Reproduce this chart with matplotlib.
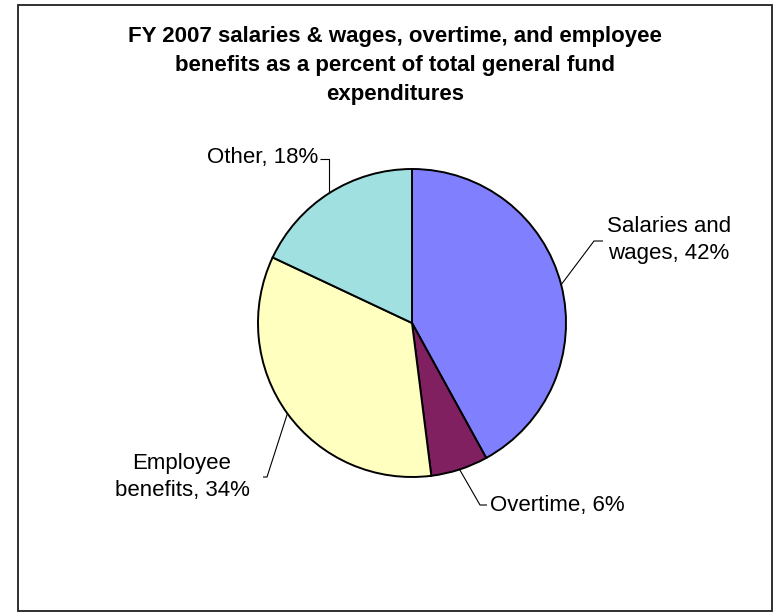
import numpy as np
import matplotlib.pyplot as plt
from matplotlib.patches import Rectangle

plt.rcParams['font.family'] = ['Liberation Sans', 'DejaVu Sans']

labels = ["Salaries and\nwages", "Overtime", "Employee\nbenefits", "Other"]
shares = [42, 6, 34, 18]
colors = ["#8080FF", "#802060", "#FFFFC0", "#A0E0E0"]

W, H = 774, 612
fig = plt.figure(figsize=(W / 100, H / 100), dpi=100)
ax = fig.add_axes([0, 0, 1, 1])
ax.set_xlim(0, W)
ax.set_ylim(0, H)
ax.set_aspect('equal')
ax.axis('off')

# chart frame
ax.add_patch(Rectangle((18, 1), 754, 606, fill=False, ec="#202020", lw=1.3, clip_on=False))

ax.text(395, H - 26, "FY 2007 salaries & wages, overtime, and employee\n"
        "benefits as a percent of total general fund\nexpenditures",
        ha='center', va='top', fontsize=16, fontweight='bold', linespacing=1.5)

cx, cy, r = 412, H - 323, 154
wedges, _ = ax.pie(shares, colors=colors, startangle=90, counterclock=False,
                   center=(cx, cy), radius=r,
                   wedgeprops=dict(edgecolor='black', linewidth=1.4))
ax.set_xlim(0, W)
ax.set_ylim(0, H)

# label text spot, leader elbow, leader end (pixels from top-left)
layout = [
    dict(text=(607, 240), ha='left', elbow=(594, 241), end=(603, 241)),
    dict(text=(490, 505), ha='left', elbow=(480, 505), end=(487, 505)),
    dict(text=(182, 477), ha='center', elbow=(267, 477), end=(263, 477)),
    dict(text=(318, 158), ha='right', elbow=(326, 159), end=(320, 159)),
]

for w, lab, val, lay in zip(wedges, labels, shares, layout):
    mid = np.deg2rad((w.theta1 + w.theta2) / 2)
    ax_pt = (cx + r * np.cos(mid), cy + r * np.sin(mid))
    ex, ey = lay['elbow']
    nx, ny = lay['end']
    if lab == "Other":
        ex = ax_pt[0]
    ax.plot([ax_pt[0], ex, nx], [ax_pt[1], H - ey, H - ny], color='black', lw=0.8,
            solid_capstyle='butt')
    tx, ty = lay['text']
    ax.text(tx, H - ty, f"{lab}, {val}%", ha=lay['ha'], va='center',
            fontsize=16, linespacing=1.32, multialignment='center')

fig.savefig("out.png", dpi=100)
